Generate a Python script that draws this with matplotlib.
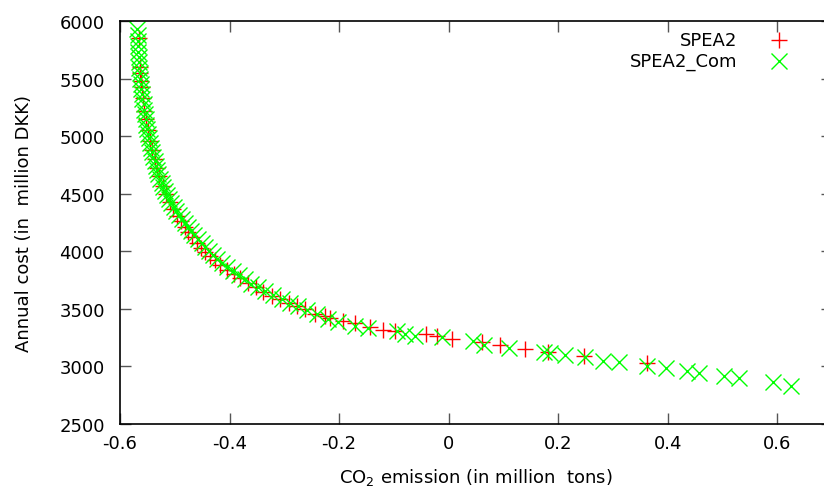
import numpy as np
import matplotlib
matplotlib.use('Agg')
import matplotlib.pyplot as plt

# SPEA2 (red +) : CO2 emission, annual cost
spea2_x = [-0.565, -0.564, -0.563, -0.562, -0.560, -0.558, -0.556, -0.553, -0.549, -0.546,
           -0.541, -0.537, -0.533, -0.528, -0.522, -0.516, -0.509, -0.503, -0.496, -0.489,
           -0.482, -0.475, -0.468, -0.460, -0.452, -0.444, -0.435, -0.426, -0.417, -0.405,
           -0.392, -0.380, -0.366, -0.352, -0.338, -0.322, -0.307, -0.292, -0.277, -0.262,
           -0.244, -0.226, -0.217, -0.193, -0.171, -0.144, -0.120, -0.098, -0.042, -0.022,
           0.006, 0.061, 0.093, 0.139, 0.181, 0.247, 0.362]
spea2_y = [5850, 5600, 5550, 5480, 5430, 5330, 5220, 5150, 5050, 4960,
           4880, 4800, 4720, 4650, 4570, 4500, 4430, 4370, 4310, 4260,
           4210, 4165, 4120, 4075, 4030, 3990, 3955, 3920, 3885, 3840,
           3800, 3765, 3725, 3690, 3650, 3615, 3585, 3555, 3525, 3495,
           3456, 3438, 3421, 3395, 3377, 3343, 3317, 3308, 3282, 3265,
           3238, 3212, 3186, 3152, 3125, 3091, 3030]

# SPEA2_Com (green x)
com_x = [-0.569, -0.568, -0.568, -0.567, -0.567, -0.566, -0.565, -0.565, -0.564, -0.563,
         -0.562, -0.561, -0.560, -0.559, -0.557, -0.556, -0.555, -0.553, -0.552, -0.550,
         -0.549, -0.547, -0.545, -0.543, -0.541, -0.539, -0.537, -0.535, -0.532, -0.530,
         -0.527, -0.524, -0.521, -0.518, -0.514, -0.510, -0.506, -0.502, -0.497, -0.492,
         -0.487, -0.482, -0.476, -0.470, -0.464, -0.458, -0.451, -0.444, -0.437, -0.430,
         -0.422, -0.413, -0.404, -0.394, -0.383, -0.372, -0.360, -0.348, -0.335, -0.320,
         -0.305, -0.290, -0.275, -0.258, -0.241, -0.220, -0.202, -0.171, -0.147, -0.095,
         -0.080, -0.062, -0.012, 0.044, 0.064, 0.111, 0.174, 0.185, 0.212, 0.249,
         0.281, 0.312, 0.362, 0.396, 0.435, 0.457, 0.502, 0.530, 0.593, 0.626]
com_y = [5930, 5880, 5830, 5780, 5735, 5690, 5640, 5595, 5550, 5500,
         5455, 5410, 5365, 5320, 5275, 5230, 5190, 5145, 5100, 5060,
         5020, 4980, 4940, 4900, 4860, 4820, 4780, 4745, 4705, 4670,
         4630, 4595, 4560, 4525, 4490, 4455, 4420, 4385, 4350, 4315,
         4280, 4245, 4210, 4175, 4140, 4105, 4070, 4035, 4000, 3965,
         3930, 3895, 3860, 3825, 3790, 3755, 3720, 3688, 3655, 3620,
         3588, 3555, 3525, 3490, 3456, 3412, 3386, 3355, 3330, 3308,
         3282, 3265, 3252, 3221, 3190, 3162, 3125, 3117, 3099, 3085,
         3050, 3039, 3004, 2987, 2960, 2943, 2917, 2900, 2865, 2830]

x_ticks = [-0.6, -0.4, -0.2, 0, 0.2, 0.4, 0.6]
x_tick_labels = ['-0.6', '-0.4', '-0.2', '0', '0.2', '0.4', '0.6']
y_ticks = [2500, 3000, 3500, 4000, 4500, 5000, 5500, 6000]

fs = 13
fig = plt.figure(figsize=(8.24, 4.89), dpi=100)
# plot box: left 120px, right past the picture edge, top 22px, bottom 425px
ax = fig.add_axes([120/824, 64/489, 712/824, 403/489])

ax.plot(spea2_x, spea2_y, linestyle='none', marker='+', ms=12, mew=1.0, color='#ff0000')
ax.plot(com_x, com_y, linestyle='none', marker='x', ms=11, mew=1.0, color='#00ff00')

ax.set_xlim(-0.6, 0.7)
ax.set_ylim(2500, 6000)
ax.set_xticks(x_ticks)
ax.set_xticklabels(x_tick_labels)
ax.set_yticks(y_ticks)
ax.tick_params(direction='in', length=8, width=1, color='#555555', labelsize=fs,
               top=True, right=True)
ax.tick_params(axis='y', pad=11)
ax.tick_params(axis='x', pad=7)
for s in ax.spines.values():
    s.set_linewidth(1.2)

ax.set_xlabel('CO$_2$ emission (in million  tons)', fontsize=fs, labelpad=10)
ax.set_ylabel('Annual cost (in  million DKK)', fontsize=fs, labelpad=19)

# legend gnuplot style: right aligned text, sample on the right
ax.text((737 - 120)/712, 1 - (41 - 22)/403, 'SPEA2', transform=ax.transAxes,
        ha='right', va='center', fontsize=fs)
ax.text((737 - 120)/712, 1 - (62 - 22)/403, 'SPEA2_Com', transform=ax.transAxes,
        ha='right', va='center', fontsize=fs)
ax.plot([(779 - 120)/712], [1 - (41 - 22)/403], transform=ax.transAxes, marker='+',
        ms=12, mew=1.0, color='#ff0000', clip_on=False)
ax.plot([(779 - 120)/712], [1 - (62 - 22)/403], transform=ax.transAxes, marker='x',
        ms=11, mew=1.0, color='#00ff00', clip_on=False)

fig.savefig('out.png', dpi=100)
